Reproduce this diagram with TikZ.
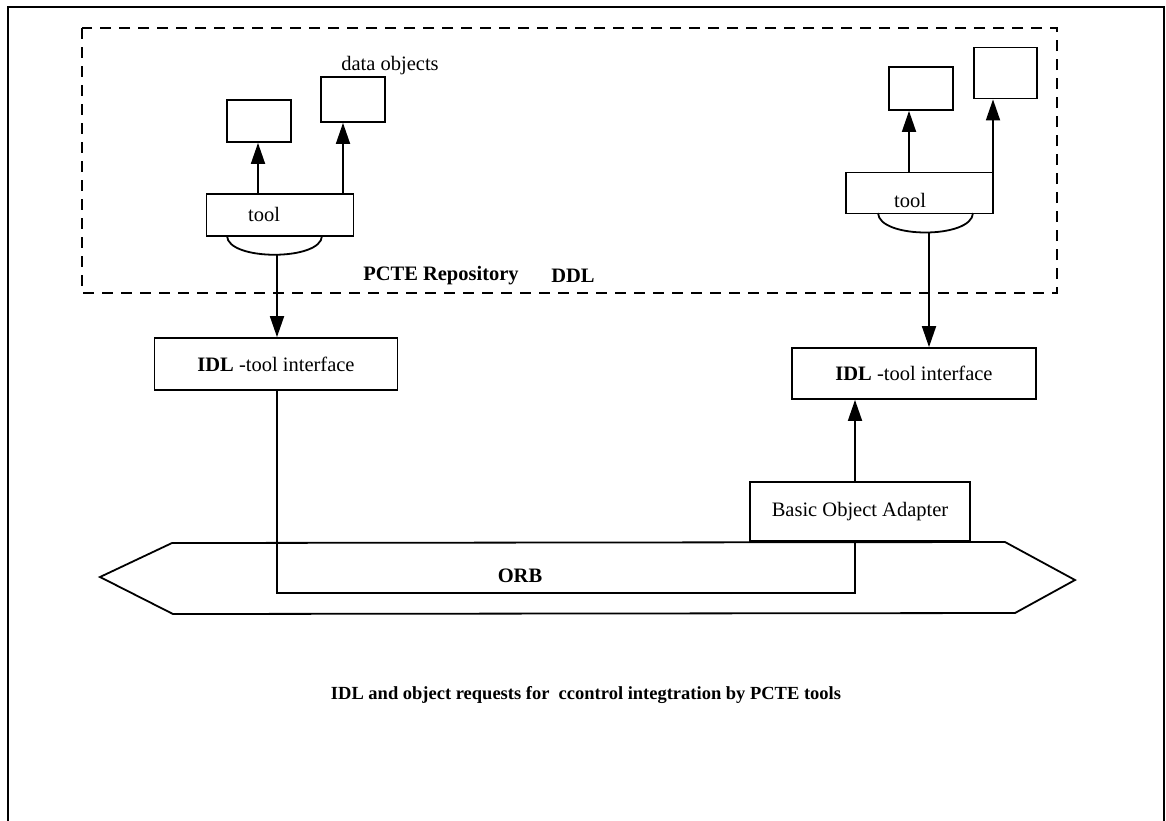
\documentclass[tikz,border=0pt]{standalone}
\usepackage{fontspec}
\setmainfont{Liberation Serif}
\usetikzlibrary{arrows.meta}
\begin{document}
\begin{tikzpicture}[x=1pt,y=-1pt,
  txt/.style={font=\fontsize{20.5}{24}\selectfont, inner sep=0pt},
  box/.style={draw, line width=1.8pt, inner sep=0pt, font=\fontsize{20.5}{24}\selectfont},
  conn/.style={line width=1.8pt},
  arr/.style={line width=1.8pt, -{Triangle[length=21pt,width=14pt]}},
  frame/.style={line width=2.4pt},
  dashbox/.style={line width=1.3pt, dash pattern=on 11pt off 8pt}]
\useasboundingbox (0,0) rectangle (1166,820);
% outer frame
\draw[frame] (8,840) -- (8,7) -- (1164,7) -- (1164,840);
% repository
\draw[dashbox] (82,28) rectangle (1057,293);
\node[txt, font=\bfseries\fontsize{20.5}{24}\selectfont] (pcte) at (441,276) {PCTE Repository};
\node[txt, font=\bfseries\fontsize{20.5}{24}\selectfont] (ddl) at (573,276) {DDL};
\node[txt, font=\fontsize{20.5}{24}\selectfont] (dobj) at (390,66) {data objects};
% left tool
\node[box, minimum width=147pt, minimum height=42pt] (toolL) at (280,215) {};
\node[txt] (toolLt) at (264,214) {tool};
\node[box, minimum width=64pt, minimum height=42pt] (objL1) at (259,121) {};
\node[box, minimum width=64pt, minimum height=45pt] (objL2) at (353,99.5) {};
\coordinate (aL1) at (258,0);
\coordinate (aL2) at (343,0);
\draw[arr] (aL1 |- toolL.north) -- (aL1 |- objL1.south);
\draw[arr] (aL2 |- toolL.north) -- (aL2 |- objL2.south);
\draw[conn] (227,236) .. controls (228,261) and (321,261) .. (322,236);
\coordinate (arcL) at (277,255);
% right tool
\node[box, minimum width=147pt, minimum height=41pt] (toolR) at (919.5,193) {};
\node[txt] (toolRt) at (910,200) {tool};
\node[box, minimum width=64pt, minimum height=43pt] (objR1) at (921,88.5) {};
\node[box, minimum width=63pt, minimum height=51pt] (objR2) at (1005.5,73) {};
\coordinate (aR1) at (909,0);
\coordinate (aR2) at (993,0);
\draw[arr] (aR1 |- toolR.north) -- (aR1 |- objR1.south);
\draw[arr] (aR2 |- toolR.north) -- (aR2 |- objR2.south);
\draw[conn] (878,213) .. controls (879,239) and (972,239) .. (973,213);
\coordinate (arcR) at (929,233);
% IDL boxes
\node[box, minimum width=243pt, minimum height=52pt] (idlL) at (276,364) {\textbf{IDL} -tool interface};
\node[box, minimum width=244pt, minimum height=51pt] (idlR) at (914,373.5) {\textbf{IDL} -tool interface};
\draw[arr] (arcL) -- (arcL |- idlL.north);
\draw[arr] (arcR) -- (arcR |- idlR.north);
% BOA
\node[box, minimum width=220pt, minimum height=59pt] (boa) at (860,511.5) {Basic Object Adapter};
\coordinate (xb) at (855,0);
\draw[arr] (xb |- boa.north) -- (xb |- idlR.south);
% ORB
\draw[conn] (100,577) -- (172,543) -- (1005,542) -- (1075,580) -- (1015,613) -- (173,614) -- cycle;
\node[txt, font=\bfseries\fontsize{20.5}{24}\selectfont] (orb) at (520,576) {ORB};
\coordinate (yorb) at (0,593);
\coordinate (xl) at (277,0);
\draw[conn] (xl |- idlL.south) -- (xl |- yorb) -- (xb |- yorb) -- (xb |- boa.south);
% caption
\node[txt, font=\bfseries\fontsize{18.5}{22}\selectfont] (cap) at (586,695) {IDL and object requests for\ \ ccontrol integtration by PCTE tools};
\end{tikzpicture}
\end{document}
